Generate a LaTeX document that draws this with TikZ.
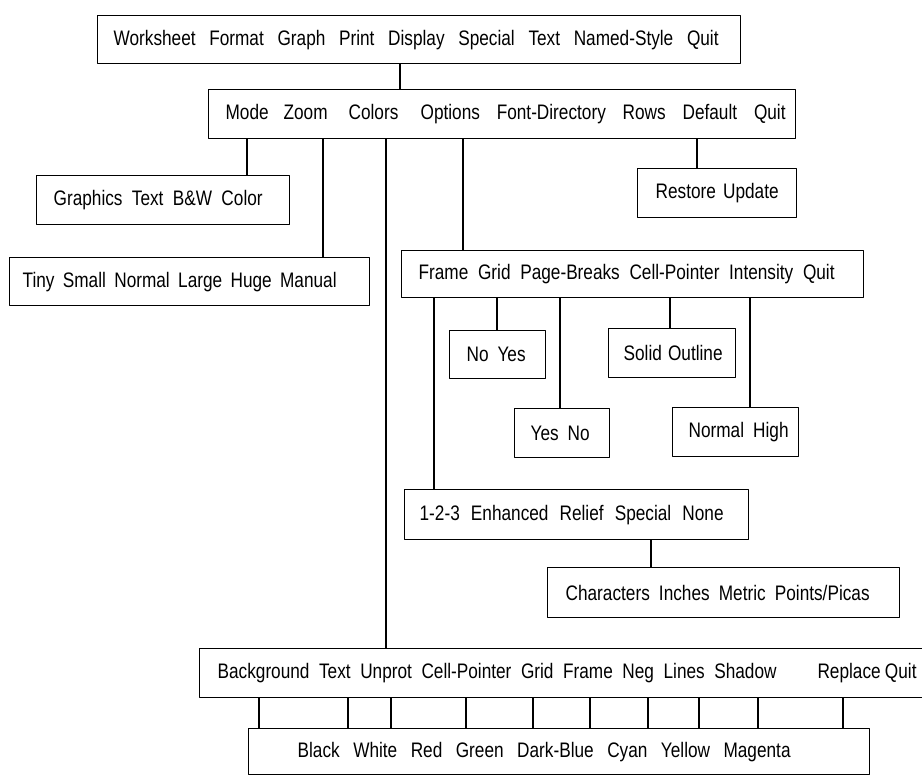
\documentclass[tikz,border=0pt]{standalone}
\usepackage{fontspec}
\setmainfont{Liberation Sans}[FakeStretch=0.82]

% one menu line: left pad, text width, right pad, words
\newcommand{\menuline}[4]{\hspace*{#1pt}\makebox[#2pt][s]{#4}\hspace*{#3pt}}

\tikzset{
  menu/.style={draw, line width=1.3pt, inner sep=0pt, anchor=north west,
    font=\fontsize{21}{24}\selectfont},
  link/.style={line width=1.3pt}
}

\begin{document}
\begin{tikzpicture}[x=1pt,y=-1pt,line cap=round,line join=round]
  \path[use as bounding box] (0,0) rectangle (922,776);
  \clip (0,0) rectangle (922,776);

  % main menu and the display menu
  \node[menu, minimum height=48pt] (worksheet) at (97,15)
    {\menuline{16}{605}{22}{Worksheet Format Graph Print Display Special Text Named-Style Quit}};
  \node[menu, minimum height=49pt] (mode) at (208,89)
    {\hspace*{17pt}\makebox[58pt][l]{Mode}\makebox[65pt][l]{Zoom}\makebox[72pt][l]{Colors}%
     \menuline{0}{365}{10}{Options Font-Directory Rows Default Quit}};

  % first level
  \node[menu, minimum height=49pt] (graphics) at (36,175)
    {\menuline{17}{209}{27}{Graphics Text B\&W Color}};
  \node[menu, minimum height=48pt] (tiny) at (9,257)
    {\menuline{13}{314}{33}{Tiny Small Normal Large Huge Manual}};
  \node[menu, minimum height=49pt] (restore) at (637,168)
    {\menuline{18}{123}{18}{Restore Update}};
  \node[menu, minimum height=47pt] (frame) at (401,250)
    {\menuline{17}{416}{29}{Frame Grid Page-Breaks Cell-Pointer Intensity Quit}};

  % options submenus
  \node[menu, minimum height=48pt] (noyes) at (449,330)
    {\menuline{17}{59}{20}{No Yes}};
  \node[menu, minimum height=49pt] (solid) at (608,328)
    {\menuline{15}{99}{13}{Solid Outline}};
  \node[menu, minimum height=49pt] (yesno) at (514,408)
    {\menuline{16}{59}{20}{Yes No}};
  \node[menu, minimum height=49pt] (normal) at (672,407)
    {\menuline{16}{100}{10}{Normal High}};
  \node[menu, minimum height=50pt] (enhanced) at (404,489)
    {\menuline{15}{304}{25}{1-2-3 Enhanced Relief Special None}};
  \node[menu, minimum height=50pt] (characters) at (547,567)
    {\menuline{18}{304}{30}{Characters Inches Metric Points/Picas}};

  % colors menu
  \node[menu, minimum height=49pt] (background) at (199,648)
    {\menuline{18}{559}{41}{Background Text Unprot Cell-Pointer Grid Frame Neg Lines Shadow}\makebox[99pt][s]{Replace Quit}\hspace*{24pt}};
  \node[menu, minimum height=46pt] (black) at (248,728)
    {\menuline{49}{493}{79}{Black White Red Green Dark-Blue Cyan Yellow Magenta}};

  % connectors
  \draw[link] (400,0 |- worksheet.south) -- (400,0 |- mode.north);
  \draw[link] (247,0 |- mode.south) -- (247,0 |- graphics.north);
  \draw[link] (323,0 |- mode.south) -- (323,0 |- tiny.north);
  \draw[link] (386,0 |- mode.south) -- (386,0 |- background.north);
  \draw[link] (463,0 |- mode.south) -- (463,0 |- frame.north);
  \draw[link] (697,0 |- mode.south) -- (697,0 |- restore.north);
  \draw[link] (434,0 |- frame.south) -- (434,0 |- enhanced.north);
  \draw[link] (497,0 |- frame.south) -- (497,0 |- noyes.north);
  \draw[link] (560,0 |- frame.south) -- (560,0 |- yesno.north);
  \draw[link] (670,0 |- frame.south) -- (670,0 |- solid.north);
  \draw[link] (750,0 |- frame.south) -- (750,0 |- normal.north);
  \draw[link] (651,0 |- enhanced.south) -- (651,0 |- characters.north);
  \foreach \x in {259,348,391,466,533,590,648,699,758,843}
    \draw[link] (\x,0 |- background.south) -- (\x,0 |- black.north);
\end{tikzpicture}
\end{document}
